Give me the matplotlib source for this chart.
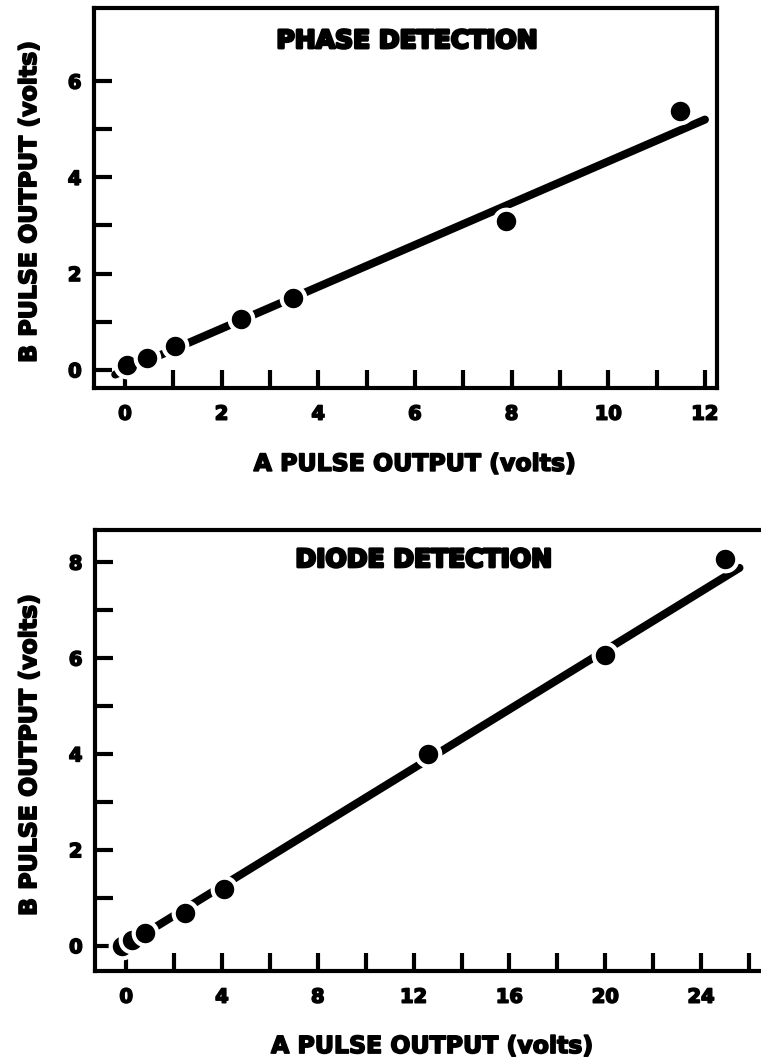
import numpy as np
import matplotlib
matplotlib.use("Agg")
import matplotlib.pyplot as plt
import matplotlib.patheffects as pe

plt.rcParams['font.family'] = ['DejaVu Sans']
plt.rcParams['font.weight'] = 'bold'

# phase detection measurements (volts)
phase_a = [0.04, 0.46, 1.04, 2.41, 3.47, 7.89, 11.49]
phase_b = [0.10, 0.24, 0.49, 1.05, 1.49, 3.09, 5.37]
phase_fit_a = [-0.2, 12.0]
phase_fit_b = [-0.10, 5.20]

# diode detection measurements (volts)
diode_a = [-0.16, 0.24, 0.79, 2.44, 4.10, 12.6, 20.0, 25.0]
diode_b = [0.0, 0.11, 0.26, 0.67, 1.19, 3.99, 6.06, 8.07]
diode_fit_a = [-0.2, 25.6]
diode_fit_b = [-0.05, 7.88]

phase_xticks = [0, 2, 4, 6, 8, 10, 12]
phase_yticks = [0, 2, 4, 6]
diode_xticks = [0, 4, 8, 12, 16, 20, 24]
diode_yticks = [0, 2, 4, 6, 8]

heavy = [pe.withStroke(linewidth=1.2, foreground='black')]

W, H = 761, 1061
fig = plt.figure(figsize=(W / 100, H / 100), dpi=100)

ax1 = fig.add_axes([94 / W, 1 - 388 / H, (717 - 94) / W, (388 - 8) / H])
ax2 = fig.add_axes([95 / W, 1 - 971 / H, (W - 95) / W + 0.02, (971 - 530) / H])


def style(ax, xlim, ylim, xmajor, ymajor, xminor, yminor):
    ax.set_xlim(*xlim)
    ax.set_ylim(*ylim)
    ax.set_xticks(xmajor)
    ax.set_yticks(ymajor)
    ax.set_xticks(xminor, minor=True)
    ax.set_yticks(yminor, minor=True)
    for s in ax.spines.values():
        s.set_linewidth(3)
    ax.tick_params(which='both', direction='in', length=13, width=3,
                   labelsize=14)
    ax.tick_params(axis='x', which='major', pad=12)
    ax.tick_params(axis='y', which='major', pad=9)
    for lab in ax.get_xticklabels() + ax.get_yticklabels():
        lab.set_fontweight('bold')
        lab.set_path_effects(heavy)
    ax.set_xlabel('A PULSE OUTPUT (volts)', fontsize=17, fontweight='bold',
                  path_effects=heavy)
    ax.set_ylabel('B PULSE OUTPUT (volts)', fontsize=17, fontweight='bold',
                  path_effects=heavy)


def draw(ax, fx, fy, xs, ys):
    ax.plot(fx, fy, color='black', lw=5.8, solid_capstyle='round', zorder=2)
    for x, y in zip(xs, ys):
        ax.plot([x], [y], 'o', color='black', ms=17, mec='white', mew=3,
                zorder=3, clip_on=False)


draw(ax1, phase_fit_a, phase_fit_b, phase_a, phase_b)
style(ax1, (-0.64, 12.25), (-0.38, 7.52), phase_xticks, phase_yticks,
      np.arange(0, 13, 1), np.arange(0, 7, 1))
ax1.text(0.502, 0.913, 'PHASE DETECTION', transform=ax1.transAxes,
         ha='center', va='center', fontsize=18, fontweight='bold',
         path_effects=[pe.withStroke(linewidth=2, foreground='black')])
ax1.xaxis.set_label_coords(0.515, -0.168)
ax1.yaxis.set_label_coords(-0.085, 0.49)

draw(ax2, diode_fit_a, diode_fit_b, diode_a, diode_b)
style(ax2, (-1.3, 26.5 + 0.02 * W / 24), (-0.53, 8.67), diode_xticks,
      diode_yticks, np.arange(0, 28, 2), np.arange(0, 9, 1))
ax2.spines['right'].set_visible(False)
ax2.text(0.482, 0.932, 'DIODE DETECTION', transform=ax2.transAxes,
         ha='center', va='center', fontsize=18, fontweight='bold',
         path_effects=[pe.withStroke(linewidth=2, foreground='black')])
ax2.xaxis.set_label_coords(0.495, -0.143)
ax2.yaxis.set_label_coords(-0.079, 0.49)

fig.savefig('out.png', dpi=100)
